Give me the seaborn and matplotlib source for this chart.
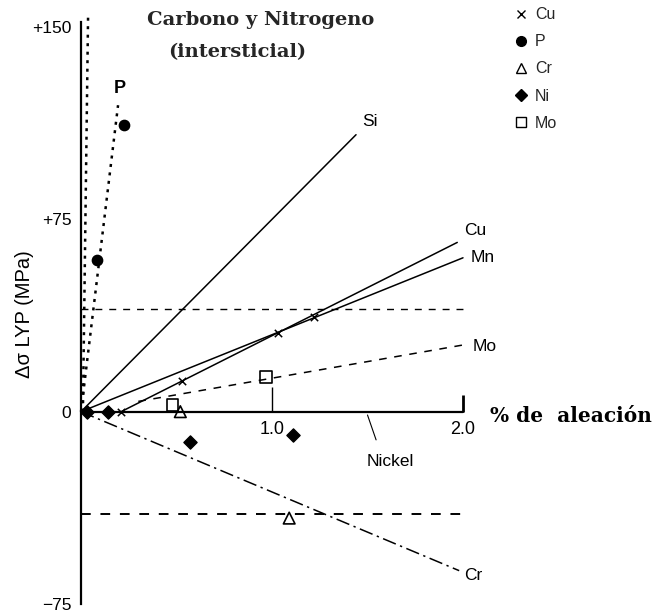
import matplotlib
matplotlib.use("Agg")
import matplotlib.pyplot as plt
from matplotlib.lines import Line2D
import seaborn as sns
import pandas as pd

# ---- data ----
# straight lines (x = % alloy, y = delta sigma LYP in MPa)
si_x, si_y = [0.0, 1.44], [0.0, 108.0]
cu_x, cu_y = [0.21, 1.97], [0.0, 66.0]
mn_x, mn_y = [0.0, 2.0], [0.0, 60.0]
mo_x, mo_y = [0.30, 2.0], [4.0, 26.0]
cr_x, cr_y = [0.0, 1.98], [0.0, -62.0]
p_x, p_y = [0.0, 0.194], [0.0, 119.5]
cn_x, cn_y = [0.01, 0.037], [0.0, 154.0]
ref_x = [0.0, 2.0]
ref_hi = [40.0, 40.0]
ref_lo = [-40.0, -40.0]
ni_line_x, ni_line_y = [0.0, 2.0], [0.0, 0.0]

# data points
cu_pts_x, cu_pts_y = [0.21, 0.53, 1.03, 1.22], [0.0, 12.0, 30.5, 37.0]
p_pts_x, p_pts_y = [0.084, 0.225], [59.0, 111.7]
cr_pts_x, cr_pts_y = [0.52, 1.09], [0.0, -41.5]
ni_pts_x, ni_pts_y = [0.03, 0.14, 0.57, 1.11], [0.0, 0.0, -12.0, -9.0]
mo_pts_x, mo_pts_y = [0.48, 0.97], [2.5, 13.6]

y_ticks = [-75, 0, 75, 150]
y_tick_labels = ["\u221275", "0", "+75", "+150"]
x_tick_vals = [1.0, 2.0]
x_tick_labels = ["1.0", "2.0"]

legend_labels = ["Cu", "P", "Cr", "Ni", "Mo"]

# ---- figure ----
sns.set_style("white")
plt.rcParams["font.family"] = ["Liberation Sans", "DejaVu Sans"]

W, H = 656, 616
fig = plt.figure(figsize=(W / 100, H / 100), dpi=100)
ax = fig.add_axes([81 / W, 12 / H, 382 / W, 577 / H])
ax.set_xlim(0, 2)
ax.set_ylim(-75, 150)
for s in ["top", "right", "bottom"]:
    ax.spines[s].set_visible(False)
ax.spines["left"].set_bounds(-75, 152)
ax.spines["left"].set_linewidth(1.6)
ax.spines["left"].set_color("black")
ax.set_xticks([])
ax.set_yticks(y_ticks)
ax.set_yticklabels(y_tick_labels)
ax.tick_params(axis="y", direction="in", length=11, width=1.0, pad=7,
               labelsize=12.5, colors="black")
ax.patch.set_alpha(0)

K = "black"

def line(x, y, lw=1.0, dashes=None):
    df = pd.DataFrame({"x": x, "y": y})
    sns.lineplot(data=df, x="x", y="y", ax=ax, color=K, linewidth=lw,
                 sort=False, estimator=None)
    ln = ax.lines[-1]
    ln.set_clip_on(False)
    if dashes is not None:
        ln.set_dashes(dashes)
    return ln

line(si_x, si_y, 1.1)
line(cu_x, cu_y, 1.1)
line(mn_x, mn_y, 1.1)
line(mo_x, mo_y, 1.1, (5, 5))
line(cr_x, cr_y, 1.1, (9, 3, 1.5, 3))
line(p_x, p_y, 1.8, (1.2, 2.2))
line(cn_x, cn_y, 1.8, (1.2, 2.2))
line(ref_x, ref_hi, 1.0, (5, 5))
line(ref_x, ref_lo, 1.4, (5, 5))
line(ni_line_x, ni_line_y, 1.6)

# x-axis ticks and labels
ax.vlines(x_tick_vals, 0, [9.5, 6.5], color=K, linewidth=[1.0, 2.0], clip_on=False)
for xv, lab in zip(x_tick_vals, x_tick_labels):
    ax.text(xv, -7, lab, ha="center", va="center", fontsize=13, color=K)

def pts(x, y, marker, size, filled=True, lw=1.0):
    df = pd.DataFrame({"x": x, "y": y})
    sns.scatterplot(data=df, x="x", y="y", ax=ax, marker=marker, s=size,
                    color=K if filled else "none", edgecolor=K, linewidth=lw,
                    clip_on=False, zorder=5)

pts(cu_pts_x, cu_pts_y, "x", 28, True, 1.1)
pts(p_pts_x, p_pts_y, "o", 55)
pts(cr_pts_x, cr_pts_y, "^", 70, False, 1.2)
pts(ni_pts_x, ni_pts_y, "D", 45)
pts(mo_pts_x, mo_pts_y, "s", 70, False, 1.2)
ax.set_xlabel("")
ax.set_ylabel("")

# line labels
lab_kw = dict(fontsize=12.5, color=K, ha="left", va="center")
ax.text(1.47, 113, "Si", **lab_kw)
ax.text(2.005, 70.8, "Cu", **lab_kw)
ax.text(2.04, 60, "Mn", **lab_kw)
ax.text(2.05, 25.6, "Mo", **lab_kw)
ax.text(2.005, -63.7, "Cr", **lab_kw)
ax.text(0.204, 126, "P", fontsize=13, fontweight="bold", color=K,
        ha="center", va="center")
ax.text(1.62, -19.6, "Nickel", fontsize=12.5, color=K, ha="center", va="center")
ax.plot([1.50, 1.545], [-1.3, -11], color=K, linewidth=0.8, clip_on=False)

# axis titles
ax.text(2.14, -1.7, "% de  aleación", fontsize=14.5, fontweight="bold",
        family="DejaVu Serif", ha="left", va="center", color=K)
fig.text(25 / W, 1 - 314 / H, "Δσ LYP (MPa)", rotation=90, fontsize=14.5,
         ha="center", va="center", color=K)
fig.text(261 / W, 1 - 20 / H, "Carbono y Nitrogeno", fontsize=14,
         fontweight="bold", family="DejaVu Serif", ha="center", va="center")
fig.text(237 / W, 1 - 52 / H, "(intersticial)", fontsize=14,
         fontweight="bold", family="DejaVu Serif", ha="center", va="center")

# legend
handles = [
    Line2D([], [], linestyle="none", marker="x", color=K, markersize=6, markeredgewidth=1.0),
    Line2D([], [], linestyle="none", marker="o", color=K, markersize=7),
    Line2D([], [], linestyle="none", marker="^", markerfacecolor="none", markeredgecolor=K, markersize=7),
    Line2D([], [], linestyle="none", marker="D", color=K, markersize=6),
    Line2D([], [], linestyle="none", marker="s", markerfacecolor="none", markeredgecolor=K, markersize=7),
]
fig.legend(handles, legend_labels, loc="upper left",
           bbox_to_anchor=(503 / W, 1 + 4 / H), bbox_transform=fig.transFigure,
           frameon=False, fontsize=11.5, handlelength=0.8, handletextpad=0.5,
           labelspacing=0.76, borderpad=0.2)

fig.savefig("out.png", dpi=100)
